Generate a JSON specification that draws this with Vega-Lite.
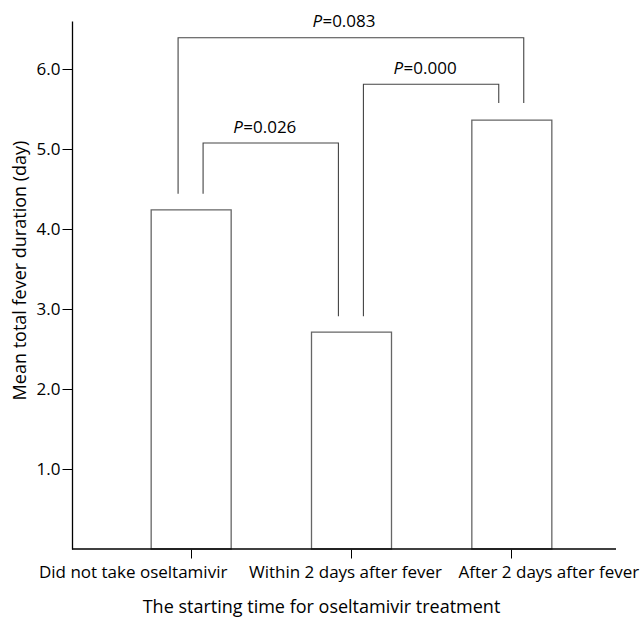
{
  "$schema": "https://vega.github.io/schema/vega-lite/v6.json",
  "width": 544,
  "height": 528,
  "autosize": "none",
  "padding": {"left": 72, "top": 21, "right": 24, "bottom": 73},
  "config": {"view": {"stroke": null}, "font": "Open Sans"},
  "datasets": {
    "bars": [
      {"group": "Did not take oseltamivir", "mean": 4.24},
      {"group": "Within 2 days after fever", "mean": 2.71},
      {"group": "After 2 days after fever", "mean": 5.36}
    ],
    "brackets": [
      {"b": "b1", "group": "Did not take oseltamivir", "side": "R", "y": 4.44, "step": 1},
      {"b": "b1", "group": "Did not take oseltamivir", "side": "R", "y": 5.075, "step": 2},
      {"b": "b1", "group": "Within 2 days after fever", "side": "L", "y": 5.075, "step": 3},
      {"b": "b1", "group": "Within 2 days after fever", "side": "L", "y": 2.91, "step": 4},
      {"b": "b2", "group": "Within 2 days after fever", "side": "R", "y": 2.91, "step": 1},
      {"b": "b2", "group": "Within 2 days after fever", "side": "R", "y": 5.81, "step": 2},
      {"b": "b2", "group": "After 2 days after fever", "side": "L", "y": 5.81, "step": 3},
      {"b": "b2", "group": "After 2 days after fever", "side": "L", "y": 5.575, "step": 4},
      {"b": "b3", "group": "Did not take oseltamivir", "side": "L", "y": 4.44, "step": 1},
      {"b": "b3", "group": "Did not take oseltamivir", "side": "L", "y": 6.39, "step": 2},
      {"b": "b3", "group": "After 2 days after fever", "side": "R", "y": 6.39, "step": 3},
      {"b": "b3", "group": "After 2 days after fever", "side": "R", "y": 5.575, "step": 4}
    ],
    "pinner": [
      {"group": "Did not take oseltamivir", "y": 5.075, "p": "=0.026"},
      {"group": "Within 2 days after fever", "y": 5.81, "p": "=0.000"}
    ],
    "pouter": [
      {"group": "Within 2 days after fever", "y": 6.39, "p": "=0.083"}
    ]
  },
  "layer": [
    {
      "data": {"name": "bars"},
      "mark": {"type": "bar", "fill": "white", "stroke": "#666666", "strokeWidth": 1.3, "width": 80},
      "encoding": {
        "x": {
          "field": "group",
          "type": "nominal",
          "sort": null,
          "scale": {
            "domain": ["Did not take oseltamivir", "Within 2 days after fever", "After 2 days after fever"],
            "range": [39, 520],
            "paddingInner": 0.5,
            "paddingOuter": 0.25
          },
          "axis": {
            "title": "The starting time for oseltamivir treatment",
            "labelAngle": 0,
            "labelFontSize": 17,
            "labelColor": "black",
            "labelLimit": 400,
            "labelOverlap": false,
            "labelPadding": 6,
            "labelOffset": {"expr": "datum.value === 'Did not take oseltamivir' ? -58 : (datum.value === 'Within 2 days after fever' ? -6 : 37)"},
            "domain": false,
            "tickColor": "black",
            "tickSize": 9,
            "titleFontSize": 18,
            "titleFontWeight": "normal",
            "titleColor": "black",
            "titlePadding": 18,
            "titleX": 249
          }
        },
        "y": {
          "field": "mean",
          "type": "quantitative",
          "scale": {"domain": [0, 6.6], "nice": false, "zero": true},
          "axis": {
            "title": "Mean total fever duration (day)",
            "values": [1, 2, 3, 4, 5, 6],
            "format": ".1f",
            "grid": false,
            "labelFontSize": 17,
            "labelColor": "black",
            "labelPadding": 2,
            "tickSize": 10,
            "tickColor": "black",
            "domainColor": "black",
            "domainWidth": 1.3,
            "titleFontSize": 18,
            "titleFontWeight": "normal",
            "titleColor": "black",
            "titlePadding": 7,
            "titleY": 249
          }
        }
      }
    },
    {
      "data": {"name": "brackets"},
      "mark": {"type": "line", "color": "#444444", "strokeWidth": 1.1},
      "encoding": {
        "x": {"field": "group", "type": "nominal", "sort": null},
        "xOffset": {
          "field": "side",
          "type": "nominal",
          "scale": {"type": "point", "domain": ["L", "R"], "range": [27, 52], "padding": 0}
        },
        "y": {"field": "y", "type": "quantitative"},
        "detail": {"field": "b", "type": "nominal"},
        "order": {"field": "step", "type": "quantitative"}
      }
    },
    {
      "data": {"values": [{}]},
      "mark": {"type": "rule", "color": "black", "strokeWidth": 1.3},
      "encoding": {"y": {"datum": 0}}
    },
    {
      "data": {"name": "pinner"},
      "mark": {"type": "text", "text": "P", "fontStyle": "italic", "fontSize": 17, "align": "left", "baseline": "alphabetic", "dy": -10, "color": "black"},
      "encoding": {
        "x": {"field": "group", "type": "nominal", "bandPosition": 1.025},
        "y": {"field": "y", "type": "quantitative"}
      }
    },
    {
      "data": {"name": "pinner"},
      "mark": {"type": "text", "fontSize": 17, "align": "left", "baseline": "alphabetic", "dy": -10, "dx": 10, "color": "black"},
      "encoding": {
        "x": {"field": "group", "type": "nominal", "bandPosition": 1.025},
        "y": {"field": "y", "type": "quantitative"},
        "text": {"field": "p"}
      }
    },
    {
      "data": {"name": "pouter"},
      "mark": {"type": "text", "text": "P", "fontStyle": "italic", "fontSize": 17, "align": "left", "baseline": "alphabetic", "dy": -11, "dx": 1, "color": "black"},
      "encoding": {
        "x": {"field": "group", "type": "nominal", "bandPosition": 0},
        "y": {"field": "y", "type": "quantitative"}
      }
    },
    {
      "data": {"name": "pouter"},
      "mark": {"type": "text", "fontSize": 17, "align": "left", "baseline": "alphabetic", "dy": -11, "dx": 11, "color": "black"},
      "encoding": {
        "x": {"field": "group", "type": "nominal", "bandPosition": 0},
        "y": {"field": "y", "type": "quantitative"},
        "text": {"field": "p"}
      }
    }
  ]
}
